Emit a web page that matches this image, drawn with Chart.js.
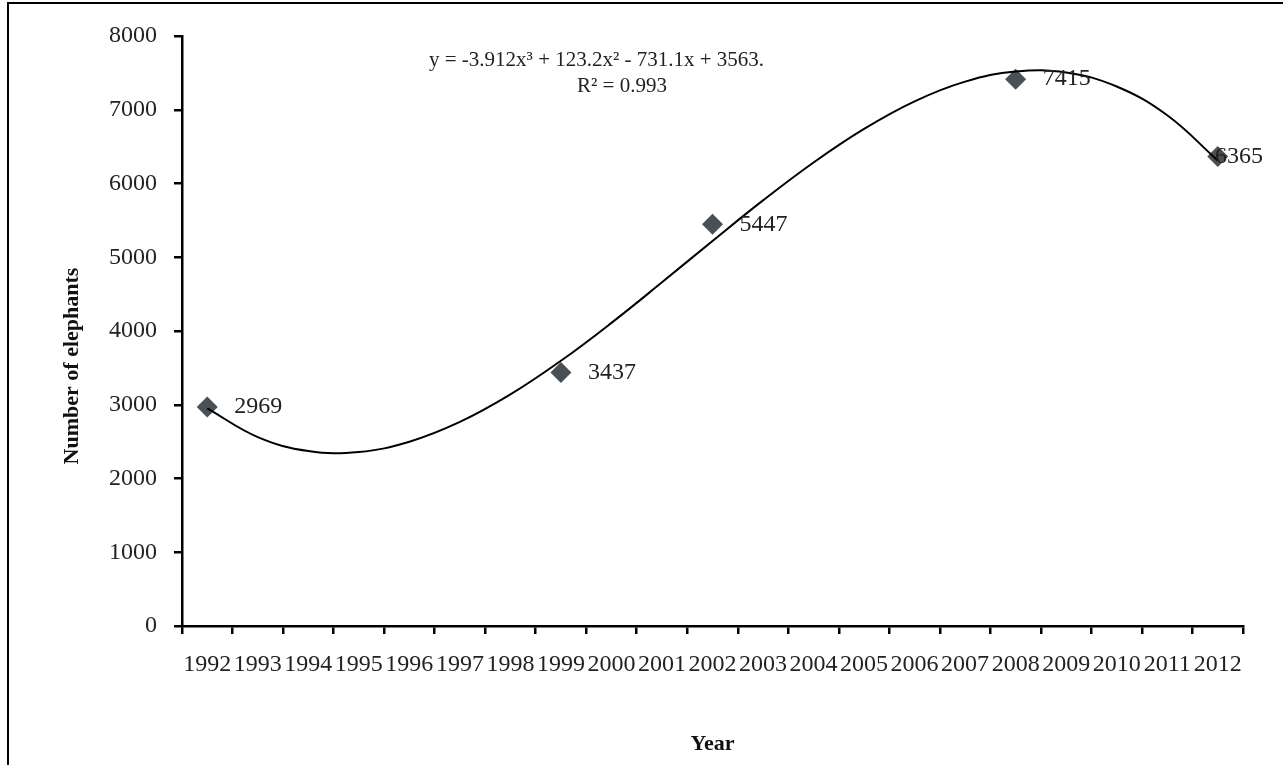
<!DOCTYPE html>
<html>
<head>
<meta charset="utf-8">
<script src="https://cdn.jsdelivr.net/npm/chart.js@4.4.0/dist/chart.umd.min.js"></script>
<style>
  html, body { margin: 0; padding: 0; background: #fff; }
  #wrap { position: relative; width: 1283px; height: 765px; }
  #frame { position: absolute; left: 7px; top: 2px; right: -5px; bottom: -5px;
           border-left: 2px solid #000; border-top: 2px solid #000; pointer-events: none; }
</style>
</head>
<body>
<div id="wrap">
  <canvas id="chart" width="1283" height="765"></canvas>
  <div id="frame"></div>
</div>
<script>
const years = ['1992', '1993', '1994', '1995', '1996', '1997', '1998', '1999', '2000', '2001', '2002',
  '2003', '2004', '2005', '2006', '2007', '2008', '2009', '2010', '2011', '2012'];

// survey counts (null = no survey that year)
const elephants = [2969, null, null, null, null, null, null, 3437, null, null, 5447,
  null, null, null, null, null, 7415, null, null, null, 6365];

// polynomial trend line
const trend = [2951, 2562, 2373, 2359, 2499, 2767, 3140, 3596, 4110, 4660, 5221,
  5771, 6285, 6740, 7114, 7381, 7519, 7505, 7315, 6925, 6312];

const yTicks = [0, 1000, 2000, 3000, 4000, 5000, 6000, 7000, 8000];

const equation = 'y = -3.912x\u00B3 + 123.2x\u00B2 - 731.1x + 3563.';
const rSquared = 'R\u00B2 = 0.993';
const yTitle = 'Number of elephants';

const serif = '"Liberation Serif", "DejaVu Serif", serif';

// value labels next to the diamonds, trend equation, y title
const labels = {
  id: 'labels',
  afterDatasetsDraw(chart) {
    const c = chart.ctx;
    const meta = chart.getDatasetMeta(1);
    c.save();
    c.font = '24px ' + serif;
    c.fillStyle = '#222';
    c.textBaseline = 'middle';
    c.textAlign = 'left';
    meta.data.forEach((pt, i) => {
      const v = elephants[i];
      if (v === null) return;
      const txt = String(v);
      const w = c.measureText(txt).width;
      let x = pt.x + 27;
      if (x + w > chart.width - 20) x = chart.width - 20 - w;
      c.fillText(txt, x, pt.y);
    });
    c.font = '21px ' + serif;
    c.fillText(equation, 429, 60);
    c.textAlign = 'center';
    c.fillText(rSquared, 622, 86);

    // y axis title, sits a bit below the plot centre like the original
    c.translate(72, 366);
    c.rotate(-Math.PI / 2);
    c.font = 'bold 22px ' + serif;
    c.fillStyle = '#111';
    c.fillText(yTitle, 0, 0);
    c.restore();
  }
};

new Chart(document.getElementById('chart'), {
  type: 'line',
  data: {
    labels: years,
    datasets: [{
      label: 'Trend',
      data: trend,
      borderColor: '#000',
      borderWidth: 2,
      pointRadius: 0,
      tension: 0.4,
      fill: false
    }, {
      label: 'Elephants',
      data: elephants,
      showLine: false,
      pointStyle: 'rectRot',
      pointRadius: 10.5,
      pointBackgroundColor: '#4b5055',
      pointBorderColor: '#4b5055',
      pointBorderWidth: 0
    }]
  },
  options: {
    responsive: false,
    animation: false,
    events: [],
    layout: { padding: { left: 59, right: 40, top: 36, bottom: 7 } },
    plugins: {
      legend: { display: false },
      tooltip: { enabled: false }
    },
    scales: {
      x: {
        type: 'category',
        offset: true,
        border: { color: '#000', width: 2.5 },
        grid: { offset: true, drawOnChartArea: false, color: '#000', lineWidth: 2.5, tickLength: 8 },
        ticks: {
          autoSkip: false, maxRotation: 0, minRotation: 0, padding: 16,
          color: '#222', font: { family: serif, size: 24 }
        },
        title: {
          display: true, text: 'Year', color: '#111', padding: 0,
          font: { family: serif, size: 22, weight: 'bold' }
        },
        afterFit(scale) { scale.height = 765 - 7 - 626; }
      },
      y: {
        min: 0,
        max: 8000,
        border: { color: '#000', width: 2.5 },
        grid: { drawOnChartArea: false, color: '#000', lineWidth: 2.5, tickLength: 8 },
        afterBuildTicks(scale) { scale.ticks = yTicks.map(v => ({ value: v })); },
        ticks: {
          padding: 17, color: '#222', font: { family: serif, size: 24 },
          callback: v => String(v)
        },
        afterFit(scale) { scale.width = 182 - 59; }
      }
    }
  },
  plugins: [labels]
});
</script>
</body>
</html>
